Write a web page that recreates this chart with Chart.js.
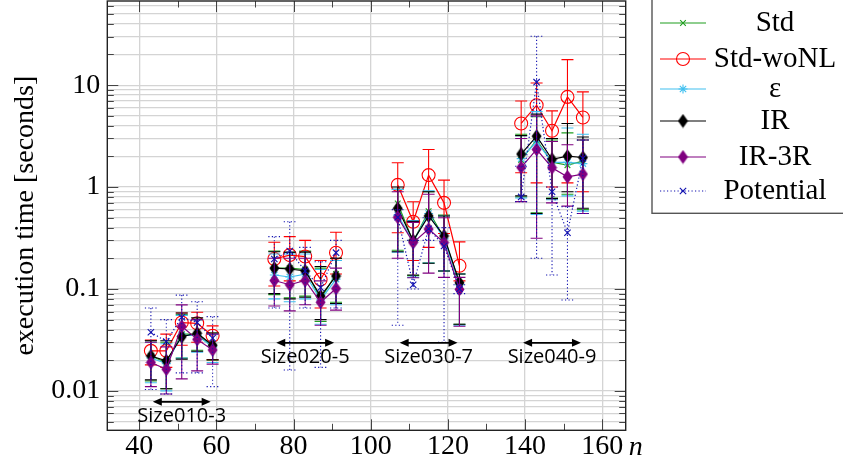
<!DOCTYPE html>
<html>
<head>
<meta charset="utf-8">
<script src="https://cdn.jsdelivr.net/npm/chart.js@4.4.1/dist/chart.umd.min.js"></script>
<style>
  html, body { margin: 0; padding: 0; background: #fff; }
  #wrap { width: 843px; height: 466px; }
</style>
</head>
<body>
<div id="wrap"><canvas id="timeChart" width="843" height="466"></canvas></div>
<script>
// instance sizes n, four groups of five
const nValues = [43, 47, 51, 55, 59, 75, 79, 83, 87, 91, 107, 111, 115, 119, 123, 139, 143, 147, 151, 155];
const groupNames = ['Size010-3', 'Size020-5', 'Size030-7', 'Size040-9'];

const xTicks = [40, 60, 80, 100, 120, 140, 160];
const yTickValues = [0.01, 0.1, 1, 10];
const yTickLabels = ['0.01', '0.1', '1', '10'];

// mean execution time and error bar bounds (seconds)
const stdMean = [0.022, 0.019, 0.036, 0.036, 0.027, 0.16, 0.16, 0.155, 0.08, 0.14, 0.69, 0.29, 0.58, 0.32, 0.115, 1.84, 2.9, 1.75, 1.64, 1.8];
const stdLow  = [0.0125, 0.0105, 0.021, 0.025, 0.02, 0.088, 0.082, 0.085, 0.048, 0.074, 0.24, 0.135, 0.18, 0.15, 0.045, 0.8, 0.56, 0.78, 0.85, 0.6];
const stdHigh = [0.031, 0.03, 0.056, 0.05, 0.037, 0.235, 0.228, 0.235, 0.16, 0.2, 0.95, 0.45, 0.9, 0.53, 0.14, 3.3, 4.9, 2.9, 3.4, 2.9];

const woNLMean = [0.0247, 0.0247, 0.0468, 0.046, 0.0347, 0.197, 0.215, 0.208, 0.124, 0.227, 1.05, 0.457, 1.31, 0.70, 0.169, 4.21, 6.36, 3.57, 7.67, 4.82];
const woNLLow  = [0.018, 0.017, 0.028, 0.03, 0.0202, 0.107, 0.12, 0.12, 0.065, 0.14, 0.356, 0.19, 0.256, 0.35, 0.12, 1.38, 1.1, 1.0, 1.1, 0.9];
const woNLHigh = [0.0316, 0.036, 0.058, 0.059, 0.0434, 0.287, 0.326, 0.30, 0.19, 0.36, 1.73, 0.718, 2.34, 1.17, 0.29, 7.0, 10.5, 5.6, 17.8, 8.6];

const epsMean = [0.021, 0.0185, 0.035, 0.035, 0.027, 0.137, 0.131, 0.14, 0.078, 0.125, 0.53, 0.29, 0.55, 0.31, 0.11, 1.9, 2.8, 1.75, 1.75, 1.7];
const epsLow  = [0.012, 0.01, 0.021, 0.024, 0.019, 0.08, 0.075, 0.08, 0.045, 0.07, 0.23, 0.13, 0.18, 0.15, 0.044, 0.78, 0.54, 0.75, 0.82, 0.58];
const epsHigh = [0.03, 0.029, 0.055, 0.05, 0.036, 0.22, 0.22, 0.22, 0.155, 0.19, 0.95, 0.47, 0.92, 0.52, 0.14, 3.2, 5.5, 3.0, 3.8, 3.3];

const irMean = [0.022, 0.0197, 0.034, 0.0368, 0.028, 0.16, 0.157, 0.15, 0.085, 0.134, 0.618, 0.298, 0.52, 0.331, 0.115, 2.11, 3.16, 1.87, 2.01, 1.95];
const irLow  = [0.0128, 0.0105, 0.0205, 0.0245, 0.0202, 0.09, 0.08, 0.083, 0.05, 0.072, 0.232, 0.137, 0.179, 0.15, 0.045, 0.82, 0.55, 0.77, 0.9, 0.62];
const irHigh = [0.031, 0.031, 0.058, 0.052, 0.037, 0.232, 0.23, 0.23, 0.166, 0.2, 1.0, 0.46, 0.9, 0.52, 0.14, 3.2, 5.2, 3.0, 4.2, 3.1];

const ir3Mean = [0.019, 0.0163, 0.043, 0.032, 0.0252, 0.121, 0.11, 0.121, 0.074, 0.101, 0.505, 0.285, 0.387, 0.285, 0.099, 1.56, 2.34, 1.55, 1.26, 1.34];
const ir3Low  = [0.011, 0.0093, 0.0131, 0.0157, 0.0183, 0.068, 0.061, 0.07, 0.044, 0.062, 0.2, 0.129, 0.143, 0.13, 0.043, 0.72, 0.314, 0.7, 0.65, 0.55];
const ir3High = [0.03, 0.027, 0.0698, 0.05, 0.036, 0.2, 0.2, 0.2, 0.12, 0.16, 0.9, 0.45, 0.85, 0.5, 0.13, 3.0, 5.0, 2.8, 2.6, 2.9];

const potMean = [0.0376, 0.0305, 0.0528, 0.0468, 0.0329, 0.197, 0.236, 0.15, 0.103, 0.227, 0.505, 0.11, 0.39, 0.264, 0.1, 0.80, 10.7, 0.90, 0.356, 1.92];
const potLow  = [0.0103, 0.0093, 0.015, 0.015, 0.011, 0.065, 0.016, 0.065, 0.017, 0.065, 0.044, 0.1, 0.3, 0.03, 0.09, 0.72, 0.2, 0.137, 0.078, 0.55];
const potHigh = [0.065, 0.05, 0.087, 0.075, 0.0535, 0.326, 0.457, 0.256, 0.185, 0.30, 0.6, 0.3, 0.5, 0.4, 0.11, 1.6, 30.2, 1.0, 0.64, 2.9];

const SERIF = "'Liberation Serif', 'DejaVu Serif', serif";

// filled diamond marker (taller than wide)
function diamond(color) {
    const c = document.createElement('canvas');
    c.width = 11; c.height = 15;
    const g = c.getContext('2d');
    g.fillStyle = color;
    g.beginPath();
    g.moveTo(5.5, 0.5); g.lineTo(10.5, 7.5); g.lineTo(5.5, 14.5); g.lineTo(0.5, 7.5);
    g.closePath();
    g.fill();
    return c;
}

function series(label, mean, low, high, color, order, extra) {
    return Object.assign({
        label: label,
        data: nValues.map((n, i) => ({ x: n, y: mean[i] })),
        errLow: low,
        errHigh: high,
        order: order,
        borderColor: color,
        backgroundColor: color,
        pointBorderColor: color,
        pointBackgroundColor: color,
        borderWidth: 1.2,
        pointBorderWidth: 1.1,
        pointRadius: 4,
        tension: 0,
        // no line between the size groups
        segment: { borderColor: ctx => (ctx.p1DataIndex % 5 === 0 ? 'rgba(0,0,0,0)' : undefined) }
    }, extra || {});
}

const datasets = [
    series('Std', stdMean, stdLow, stdHigh, '#1f9e1f', 6, { pointStyle: 'crossRot', pointRadius: 4 }),
    series('Std-woNL', woNLMean, woNLLow, woNLHigh, '#ff0000', 5, { pointStyle: 'circle', pointRadius: 6.5, pointBackgroundColor: 'rgba(0,0,0,0)' }),
    series('\u03b5', epsMean, epsLow, epsHigh, '#40c0f0', 4, { pointStyle: 'star', pointRadius: 4.5 }),
    series('IR', irMean, irLow, irHigh, '#000000', 3, { pointStyle: diamond('#000000') }),
    series('IR-3R', ir3Mean, ir3Low, ir3High, '#800080', 2, { pointStyle: diamond('#800080') }),
    series('Potential', potMean, potLow, potHigh, '#1010b0', 1, { pointStyle: 'crossRot', pointRadius: 4.5, borderDash: [1.2, 2.3] })
];

// error bars, drawn just before each series' line
const errorBars = {
    id: 'errorBars',
    beforeDatasetDraw(chart, args) {
        const ds = chart.data.datasets[args.index];
        const xs = chart.scales.x, ys = chart.scales.y, a = chart.chartArea;
        const ctx = chart.ctx;
        ctx.save();
        ctx.beginPath();
        ctx.rect(a.left, a.top, a.right - a.left, a.bottom - a.top);
        ctx.clip();
        ctx.strokeStyle = ds.borderColor;
        ctx.lineWidth = 1.1;
        ctx.setLineDash(ds.borderDash || []);
        ds.errLow.forEach((lo, i) => {
            const px = xs.getPixelForValue(nValues[i]);
            const top = ys.getPixelForValue(ds.errHigh[i]);
            const bot = ys.getPixelForValue(lo);
            ctx.beginPath();
            ctx.moveTo(px, top); ctx.lineTo(px, bot);
            ctx.moveTo(px - 6, top); ctx.lineTo(px + 6, top);
            ctx.moveTo(px - 6, bot); ctx.lineTo(px + 6, bot);
            ctx.stroke();
        });
        ctx.restore();
    }
};

function arrow(ctx, x1, x2, y) {
    ctx.beginPath();
    ctx.moveTo(x1 + 6, y); ctx.lineTo(x2 - 6, y);
    ctx.stroke();
    ctx.beginPath();
    ctx.moveTo(x1, y); ctx.lineTo(x1 + 9, y - 4); ctx.lineTo(x1 + 9, y + 4); ctx.closePath();
    ctx.moveTo(x2, y); ctx.lineTo(x2 - 9, y - 4); ctx.lineTo(x2 - 9, y + 4); ctx.closePath();
    ctx.fill();
}

// frame, inward ticks, group annotations, "n" and the legend box
const decorations = {
    id: 'decorations',
    afterDraw(chart) {
        const ctx = chart.ctx, a = chart.chartArea;
        const xs = chart.scales.x, ys = chart.scales.y;
        ctx.save();

        // tick marks
        ctx.strokeStyle = '#444';
        ctx.lineWidth = 1;
        ctx.beginPath();
        for (let v = 40; v <= 160; v += 10) {
            const px = Math.round(xs.getPixelForValue(v)) + 0.5;
            const len = v % 20 === 0 ? 11 : 6.5;
            ctx.moveTo(px, a.bottom); ctx.lineTo(px, a.bottom - len);
            ctx.moveTo(px, a.top); ctx.lineTo(px, a.top + len);
        }
        for (let k = -3; k <= 1; k++) {
            for (let m = 1; m <= 9; m++) {
                const v = m * Math.pow(10, k);
                if (v < ys.min || v > ys.max) continue;
                const py = Math.round(ys.getPixelForValue(v)) + 0.5;
                const len = m === 1 ? 11 : 6.5;
                ctx.moveTo(a.left, py); ctx.lineTo(a.left + len, py);
                ctx.moveTo(a.right, py); ctx.lineTo(a.right - len, py);
            }
        }
        ctx.stroke();

        // frame
        ctx.strokeStyle = '#222';
        ctx.lineWidth = 1.4;
        ctx.strokeRect(a.left, a.top, a.right - a.left, a.bottom - a.top);

        // size group arrows and names
        ctx.fillStyle = '#000';
        ctx.strokeStyle = '#000';
        ctx.lineWidth = 1.6;
        ctx.font = "20px 'Open Sans', 'DejaVu Sans', sans-serif";
        ctx.textAlign = 'center';
        ctx.textBaseline = 'alphabetic';
        groupNames.forEach((name, g) => {
            const first = nValues[g * 5], last = nValues[g * 5 + 4];
            const x1 = xs.getPixelForValue(first + 0.5);
            const x2 = xs.getPixelForValue(last - 0.5);
            const ay = ys.getPixelForValue(g === 0 ? 0.0078 : 0.0296);
            const ty = ys.getPixelForValue(g === 0 ? 0.00497 : 0.0188);
            arrow(ctx, x1, x2, ay);
            ctx.fillText(name, xs.getPixelForValue((first + last) / 2), ty);
        });

        // axis variable
        ctx.font = 'italic 28px ' + SERIF;
        ctx.textAlign = 'left';
        ctx.fillText('n', a.right + 3, 455);

        // legend
        const rows = [23, 59, 89, 121, 157, 191];
        ctx.strokeStyle = '#555';
        ctx.lineWidth = 1.4;
        ctx.strokeRect(652, -2, 200, 215.3);
        chart.data.datasets.forEach((ds, i) => {
            const y = rows[i];
            ctx.save();
            ctx.strokeStyle = ds.borderColor;
            ctx.lineWidth = ds.borderWidth;
            ctx.setLineDash(ds.borderDash || []);
            ctx.beginPath();
            ctx.moveTo(660, y); ctx.lineTo(706, y);
            ctx.stroke();
            ctx.setLineDash([]);
            ctx.fillStyle = ds.pointBackgroundColor;
            ctx.lineWidth = ds.pointBorderWidth;
            Chart.helpers.drawPoint(ctx, {
                pointStyle: ds.pointStyle, rotation: 0,
                radius: ds.pointRadius, borderWidth: ds.pointBorderWidth
            }, 683, y);
            ctx.restore();
            ctx.fillStyle = '#000';
            ctx.font = '29px ' + SERIF;
            ctx.textAlign = 'center';
            ctx.textBaseline = 'middle';
            ctx.fillText(ds.label, 775, y);
        });
        ctx.restore();
    }
};

new Chart(document.getElementById('timeChart'), {
    type: 'line',
    data: { datasets: datasets },
    plugins: [errorBars, decorations],
    options: {
        responsive: false,
        animation: false,
        layout: { autoPadding: false, padding: { left: 0, top: 1, right: 217.3, bottom: 0 } },
        plugins: { legend: { display: false }, tooltip: { enabled: false } },
        scales: {
            x: {
                type: 'linear',
                min: 31.7,
                max: 166.1,
                afterBuildTicks: s => { s.ticks = xTicks.map(v => ({ value: v })); },
                afterFit: s => { s.height = 35.7; s.paddingLeft = 0; s.paddingRight = 0; },
                grid: { color: '#d4d4d4', lineWidth: 1.3, drawTicks: false },
                border: { display: false },
                ticks: { color: '#000', font: { family: SERIF, size: 28 }, padding: 0, maxRotation: 0, autoSkip: false }
            },
            y: {
                type: 'logarithmic',
                min: 0.0041,
                max: 67,
                afterBuildTicks: s => {
                    const t = [];
                    for (let k = -3; k <= 1; k++) {
                        for (let m = 1; m <= 9; m++) {
                            const v = m * Math.pow(10, k);
                            if (v >= s.min && v <= s.max) t.push({ value: v });
                        }
                    }
                    s.ticks = t;
                },
                afterFit: s => { s.width = 107.3; s.paddingTop = 0; s.paddingBottom = 0; },
                grid: { color: '#d4d4d4', lineWidth: 1.3, drawTicks: false },
                border: { display: false },
                ticks: {
                    color: '#000',
                    font: { family: SERIF, size: 28 },
                    padding: 7,
                    autoSkip: false,
                    callback: v => {
                        const i = yTickValues.findIndex(t => Math.abs(t - v) < t * 1e-6);
                        return i >= 0 ? yTickLabels[i] : '';
                    }
                },
                title: {
                    display: true,
                    text: 'execution time [seconds]',
                    color: '#000',
                    font: { family: SERIF, size: 28 },
                    padding: { top: 9, bottom: 0 }
                }
            }
        }
    }
});
</script>
</body>
</html>
